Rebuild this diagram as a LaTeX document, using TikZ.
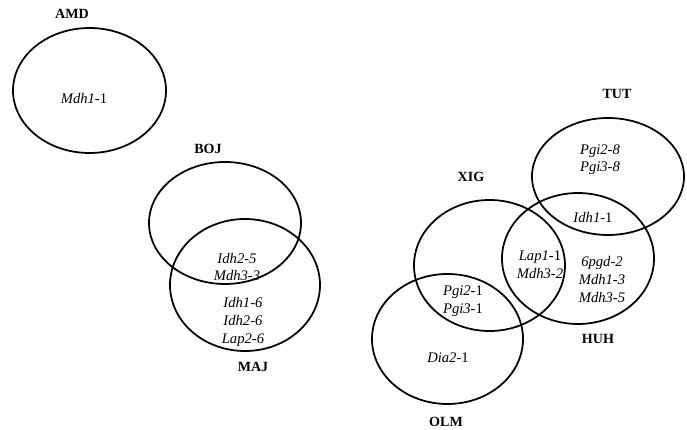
\documentclass[tikz,border=0pt]{standalone}
\usepackage{fontspec}
\setmainfont{Liberation Serif}
\usetikzlibrary{positioning}

\begin{document}
\begin{tikzpicture}[line cap=round,line join=round,x=0.03cm,y=-0.03cm,
  pop/.style={font=\bfseries\fontsize{12}{14}\selectfont},
  allele/.style={font=\fontsize{12.5}{15}\selectfont,align=center}]
\useasboundingbox (0,0) rectangle (687,430);
% populations
\draw[line width=1.5pt] (89.5,90.5) ellipse (76.5 and 62.5);
\draw[line width=1.5pt] (225,223) ellipse (76 and 61);
\draw[line width=1.5pt] (245,285) ellipse (75 and 66);
\draw[line width=1.5pt] (489.5,265.5) ellipse (75.5 and 65.5);
\draw[line width=1.5pt] (447.5,339) ellipse (75.5 and 65);
\draw[line width=1.5pt] (608,176.5) ellipse (76 and 58.5);
\draw[line width=1.5pt] (578,258.5) ellipse (76 and 65.5);
\node[pop] (amd) at (72,14) {AMD};
\node[pop] (boj) at (208,149) {BOJ};
\node[pop] (maj) at (253,367) {MAJ};
\node[pop] (xig) at (471,177) {XIG};
\node[pop] (olm) at (446,422) {OLM};
\node[pop] (tut) at (617,94) {TUT};
\node[pop] (huh) at (598,339) {HUH};
% private alleles
\node[allele] (a1) at (84,98) {\textit{Mdh1}-1};
\node[allele] (a2) at (237,267) {\textit{Idh2-5}\\\textit{Mdh3-3}};
\node[allele] (a3) at (243,322) {\textit{Idh1-6}\\\textit{Idh2-6}\\\textit{Lap2-6}};
\node[allele] (a4) at (600,159.5) {\textit{Pgi2-8}\\\textit{Pgi3-8}};
\node[allele] (a5) at (593,217) {\textit{Idh1}-1};
\node[allele] (a6) at (540,265) {\textit{Lap1}-1\\\textit{Mdh3-2}};
\node[allele] (a7) at (602,279.5) {\textit{6pgd-2}\\\textit{Mdh1-3}\\\textit{Mdh3-5}};
\node[allele] (a8) at (463,301) {\textit{Pgi2}-1\\\textit{Pgi3}-1};
\node[allele] (a9) at (448,358) {\textit{Dia2}-1};
\end{tikzpicture}
\end{document}
